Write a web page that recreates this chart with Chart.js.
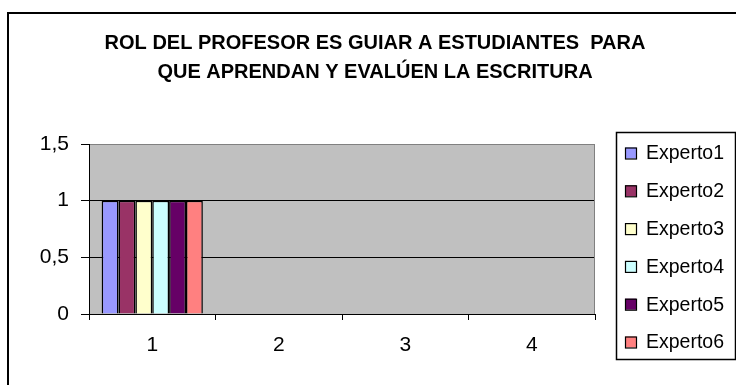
<!DOCTYPE html>
<html>
<head>
<meta charset="utf-8">
<script src="https://cdn.jsdelivr.net/npm/chart.js@4/dist/chart.umd.min.js"></script>
<style>
  html, body { margin: 0; padding: 0; background: #fff; }
  #wrap { width: 736px; height: 385px; }
</style>
</head>
<body>
<div id="wrap"><canvas id="chart" width="736" height="385"></canvas></div>
<script>
const titleLines = ['ROL DEL PROFESOR ES GUIAR A ESTUDIANTES  PARA', 'QUE APRENDAN Y EVALÚEN LA ESCRITURA'];
const categories = ['1', '2', '3', '4'];
const expertNames = ['Experto1', 'Experto2', 'Experto3', 'Experto4', 'Experto5', 'Experto6'];
const experto1 = [1, null, null, null];
const experto2 = [1, null, null, null];
const experto3 = [1, null, null, null];
const experto4 = [1, null, null, null];
const experto5 = [1, null, null, null];
const experto6 = [1, null, null, null];
const expertColors = ['#9999FF', '#993366', '#FFFFCC', '#CCFFFF', '#660066', '#FF8080'];
const yTicks = [0, 0.5, 1, 1.5];

const seriesValues = [experto1, experto2, experto3, experto4, experto5, experto6];
const FONT = "'Liberation Sans', Arial, sans-serif";

// white page, outer frame, grey plot area
const framePlugin = {
  id: 'frame',
  beforeDraw(chart) {
    const { ctx, chartArea: a } = chart;
    ctx.save();
    ctx.fillStyle = '#fff';
    ctx.fillRect(0, 0, chart.width, chart.height);
    ctx.strokeStyle = '#000';
    ctx.lineWidth = 2;
    ctx.strokeRect(8, 13, 800, 500);
    ctx.fillStyle = '#C0C0C0';
    ctx.fillRect(a.left, a.top, a.right - a.left, a.bottom - a.top);
    ctx.restore();
  },
  afterDatasetsDraw(chart) {
    const { ctx, chartArea: a } = chart;
    ctx.save();
    ctx.strokeStyle = '#808080';
    ctx.lineWidth = 1;
    ctx.beginPath();
    ctx.moveTo(a.right - 0.5, a.top);
    ctx.lineTo(a.right - 0.5, a.bottom);
    ctx.stroke();
    ctx.restore();
  }
};

const titlePlugin = {
  id: 'titleText',
  afterDraw(chart) {
    const ctx = chart.ctx;
    ctx.save();
    ctx.fillStyle = '#000';
    ctx.font = 'bold 20px ' + FONT;
    ctx.textAlign = 'center';
    ctx.textBaseline = 'middle';
    ctx.fillText(titleLines[0], 375, 43);
    ctx.fillText(titleLines[1], 375, 72);
    ctx.restore();
  }
};

const legendPlugin = {
  id: 'boxLegend',
  afterDraw(chart) {
    const ctx = chart.ctx;
    ctx.save();
    ctx.strokeStyle = '#000';
    ctx.lineWidth = 1.5;
    ctx.strokeRect(616.5, 132.5, 119, 227);
    ctx.font = '19.5px ' + FONT;
    ctx.textBaseline = 'middle';
    chart.data.datasets.forEach((ds, i) => {
      const y = 153 + i * 37.8;
      ctx.fillStyle = ds.backgroundColor;
      ctx.fillRect(625, y - 5.5, 11, 11);
      ctx.strokeStyle = '#000';
      ctx.lineWidth = 1.2;
      ctx.strokeRect(625.5, y - 5, 11, 11);
      ctx.fillStyle = '#000';
      ctx.fillText(ds.label, 646, y + 1);
    });
    ctx.restore();
  }
};

new Chart(document.getElementById('chart'), {
  type: 'bar',
  data: {
    labels: categories,
    datasets: expertNames.map((name, i) => ({
      label: name,
      data: seriesValues[i],
      backgroundColor: expertColors[i],
      borderColor: '#000',
      borderWidth: 1.5,
      barPercentage: 1,
      categoryPercentage: 0.8
    }))
  },
  options: {
    responsive: false,
    animation: false,
    layout: { padding: { top: 144, right: 141, bottom: 0, left: 0 } },
    plugins: {
      legend: { display: false },
      title: { display: false },
      tooltip: { enabled: false }
    },
    scales: {
      x: {
        offset: true,
        grid: { offset: true, drawOnChartArea: false, drawTicks: true, tickLength: 6, color: '#000' },
        border: { color: '#000', width: 1 },
        ticks: { color: '#000', font: { family: FONT, size: 21 }, padding: 13, maxRotation: 0 },
        afterFit: s => { s.height = 71; }
      },
      y: {
        min: 0,
        max: 1.5,
        afterBuildTicks: s => { s.ticks = yTicks.map(v => ({ value: v })); },
        grid: {
          color: c => (c.tick && c.tick.value === 1.5 ? '#808080' : '#000'),
          tickColor: '#000',
          tickLength: 8
        },
        border: { color: '#000', width: 1 },
        ticks: {
          color: '#000',
          font: { family: FONT, size: 21 },
          padding: 12,
          callback: v => String(v).replace('.', ',')
        },
        afterFit: s => { s.width = 89; }
      }
    }
  },
  plugins: [framePlugin, titlePlugin, legendPlugin]
});
</script>
</body>
</html>
